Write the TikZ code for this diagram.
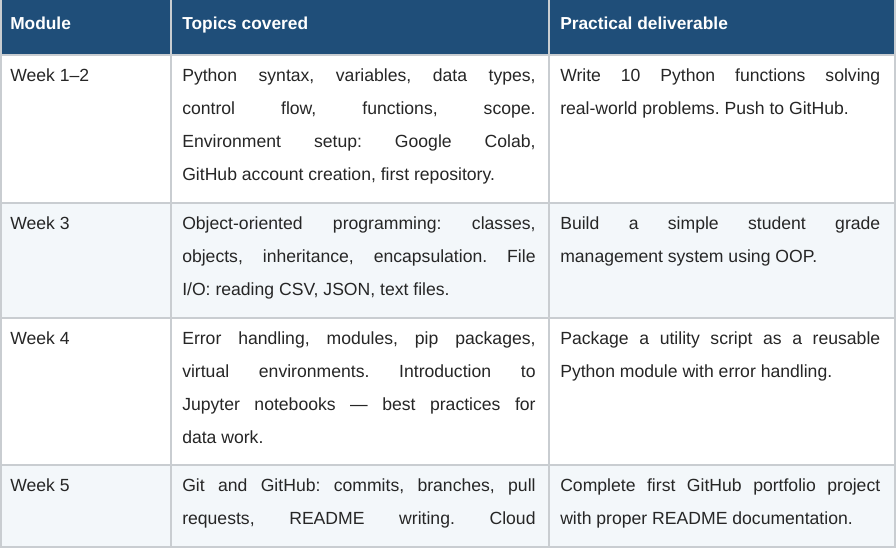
\documentclass[tikz,border=0pt]{standalone}
\usepackage{fontspec}
\setmainfont{Liberation Sans}
\frenchspacing
\definecolor{headblue}{HTML}{1F4E79}
\definecolor{rowshade}{HTML}{F3F7FA}
\definecolor{gridgray}{HTML}{C9CDD1}
\tikzset{
  cell/.style={anchor=north west, inner sep=0pt, align=justify,
    font=\fontsize{13.2}{24.75}\selectfont, text=black!85},
  headcell/.style={anchor=base west, inner sep=0pt, text=white,
    font=\fontsize{13}{14}\selectfont\bfseries},
}
\begin{document}
\begin{tikzpicture}[x=0.75pt,y=-0.75pt]
  \useasboundingbox (0,0) rectangle (896,548);
  % Row backgrounds
  \fill[headblue] (0,0) rectangle (896,55);
  \fill[white] (0,55) rectangle (896,203);
  \fill[rowshade] (0,203) rectangle (896,318);
  \fill[white] (0,318) rectangle (896,465);
  \fill[rowshade] (0,465) rectangle (896,548);

  % Grid
  \foreach \yy in {55,203,318,465,547} \draw[gridgray, line width=1.2pt] (0,\yy) -- (896,\yy);
  \foreach \xx in {1,171,549,895} \draw[gridgray, line width=1.2pt] (\xx,0) -- (\xx,548);

  % Header
  \node[headcell] (hmod) at (10,30) {Module};
  \node[headcell] (htop) at (182,30) {Topics covered};
  \node[headcell] (hdel) at (560,30) {Practical deliverable};

  % Week 1-2
  \node[cell] (m1) at (10,68) {Week 1–2};
  \node[cell, text width=265pt] (t1) at (182,68) {Python syntax, variables, data types,\linebreak control flow, functions, scope.\linebreak Environment setup: Google Colab,\linebreak GitHub account creation, first repository.};
  \node[cell, text width=240pt] (d1) at (560,68) {Write 10 Python functions solving\linebreak real-world problems. Push to GitHub.};

  % Week 3
  \node[cell] (m2) at (10,216) {Week 3};
  \node[cell, text width=265pt] (t2) at (182,216) {Object-oriented programming: classes,\linebreak objects, inheritance, encapsulation. File\linebreak I/O: reading CSV, JSON, text files.};
  \node[cell, text width=240pt] (d2) at (560,216) {Build a simple student grade\linebreak management system using OOP.};

  % Week 4
  \node[cell] (m3) at (10,331) {Week 4};
  \node[cell, text width=265pt] (t3) at (182,331) {Error handling, modules, pip packages,\linebreak virtual environments. Introduction to\linebreak Jupyter notebooks — best practices for\linebreak data work.};
  \node[cell, text width=240pt] (d3) at (560,331) {Package a utility script as a reusable\linebreak Python module with error handling.};

  % Week 5
  \node[cell] (m4) at (10,478) {Week 5};
  \node[cell, text width=265pt] (t4) at (182,478) {Git and GitHub: commits, branches, pull\linebreak requests, README writing. Cloud\linebreak};
  \node[cell, text width=240pt] (d4) at (560,478) {Complete first GitHub portfolio project\linebreak with proper README documentation.};
\end{tikzpicture}
\end{document}
